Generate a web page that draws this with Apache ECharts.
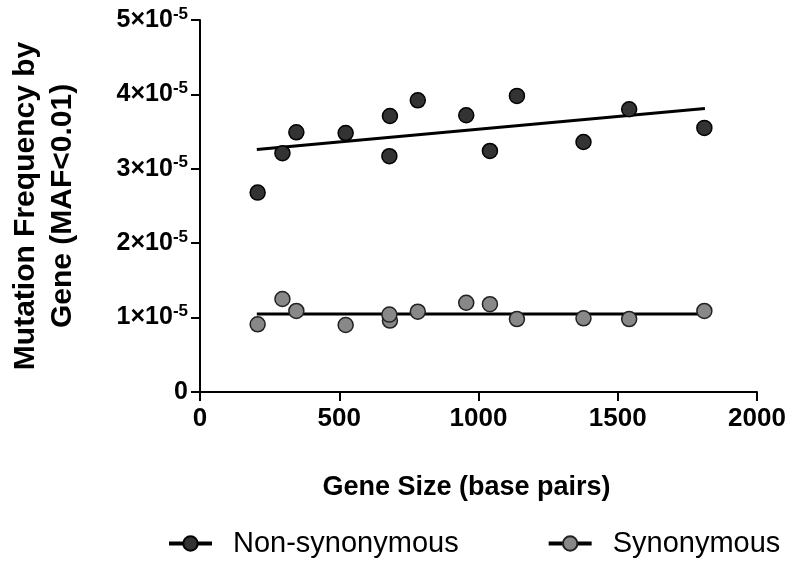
<!DOCTYPE html>
<html>
<head>
<meta charset="utf-8">
<script src="https://cdn.jsdelivr.net/npm/echarts@6/dist/echarts.min.js"></script>
<style>
  html, body { margin: 0; padding: 0; background: #fff; }
  #div_chart { width: 796px; height: 566px; }
</style>
</head>
<body>
<div id="div_chart"></div>
<script>
"use strict";

// data
const gene_size = [207, 296, 346, 523, 682, 680, 782, 956, 1041, 1138, 1377, 1541, 1811];
const freq_nonsyn = [2.68e-5, 3.21e-5, 3.49e-5, 3.48e-5, 3.71e-5, 3.17e-5, 3.92e-5, 3.72e-5, 3.24e-5, 3.98e-5, 3.36e-5, 3.80e-5, 3.55e-5];
const freq_syn = [0.91e-5, 1.25e-5, 1.09e-5, 0.90e-5, 0.96e-5, 1.04e-5, 1.08e-5, 1.20e-5, 1.18e-5, 0.98e-5, 0.99e-5, 0.98e-5, 1.09e-5];

// fitted lines (end points)
const fit_x = [204, 1813];
const fit_nonsyn = [3.26e-5, 3.81e-5];
const fit_syn = [1.05e-5, 1.05e-5];

const y_ticks = [0, 1e-5, 2e-5, 3e-5, 4e-5, 5e-5];
const x_ticks = [0, 500, 1000, 1500, 2000];

const font = "Liberation Sans";

function pairs(xs, ys) {
  return xs.map((x, i) => [x, ys[i]]);
}

const chart = echarts.init(document.getElementById("div_chart"));

chart.setOption({
  animation: false,
  textStyle: { fontFamily: font, color: "#000" },
  grid: { left: 200, right: 39, top: 20, bottom: 174, containLabel: false, outerBoundsMode: "none" },
  xAxis: {
    type: "value",
    min: x_ticks[0],
    max: x_ticks[x_ticks.length - 1],
    interval: 500,
    name: "Gene Size (base pairs)",
    nameLocation: "middle",
    nameGap: 82,
    nameTextStyle: { fontFamily: font, fontSize: 27, fontWeight: "bold", color: "#000", padding: [0, 24, 0, 0] },
    axisLine: { show: true, lineStyle: { color: "#000", width: 2 } },
    axisTick: { show: true, length: 9, lineStyle: { color: "#000", width: 2 } },
    axisLabel: {
      margin: 14,
      formatter: function (v) { return String(v); },
      fontFamily: font, fontSize: 26, fontWeight: "bold", color: "#000",
    },
    splitLine: { show: false },
  },
  yAxis: {
    type: "value",
    min: y_ticks[0],
    max: y_ticks[y_ticks.length - 1],
    interval: 1e-5,
    name: "Mutation Frequency by\nGene (MAF<0.01)",
    nameLocation: "middle",
    nameGap: 119,
    nameTextStyle: { fontFamily: font, fontSize: 30, fontWeight: "bold", color: "#000", lineHeight: 37 },
    axisLine: { show: true, lineStyle: { color: "#000", width: 2 } },
    axisTick: { show: true, length: 9, lineStyle: { color: "#000", width: 2 } },
    axisLabel: {
      margin: 12,
      formatter: function (v) {
        const n = Math.round(v / 1e-5);
        if (n === 0) return "{b|0}";
        return "{b|" + n + "×10}{s|-5}";
      },
      rich: {
        b: { fontFamily: font, fontSize: 25, fontWeight: "bold", color: "#000" },
        s: { fontFamily: font, fontSize: 17, fontWeight: "bold", color: "#000", verticalAlign: "top", padding: [0, 0, 12, 0] },
      },
    },
    splitLine: { show: false },
  },
  legend: {
    left: 167,
    top: 529,
    padding: 0,
    itemWidth: 43,
    itemHeight: 18,
    itemGap: 88,
    data: ["Non-synonymous", "Synonymous"],
    lineStyle: { width: 4 },
    textStyle: { fontFamily: font, fontSize: 29, color: "#000", padding: [0, 0, 0, 16] },
  },
  series: [
    {
      type: "line",
      name: "Non-synonymous",
      data: pairs(fit_x, fit_nonsyn),
      showSymbol: false,
      symbol: "circle",
      symbolSize: 14,
      itemStyle: { color: "#333", borderColor: "#000", borderWidth: 1.5 },
      lineStyle: { color: "#000", width: 3 },
      z: 3,
    },
    {
      type: "line",
      name: "Synonymous",
      data: pairs(fit_x, fit_syn),
      showSymbol: false,
      symbol: "circle",
      symbolSize: 14,
      itemStyle: { color: "#888", borderColor: "#222", borderWidth: 1.5 },
      lineStyle: { color: "#000", width: 3 },
      z: 3,
    },
    {
      type: "scatter",
      name: "Non-synonymous points",
      data: pairs(gene_size, freq_nonsyn),
      symbol: "circle",
      symbolSize: 15,
      itemStyle: { color: "#333", borderColor: "#000", borderWidth: 1.5, opacity: 1 },
      z: 4,
    },
    {
      type: "scatter",
      name: "Synonymous points",
      data: pairs(gene_size, freq_syn),
      symbol: "circle",
      symbolSize: 15,
      itemStyle: { color: "#888", borderColor: "#222", borderWidth: 1.5, opacity: 1 },
      z: 4,
    },
  ],
});
</script>
</body>
</html>
